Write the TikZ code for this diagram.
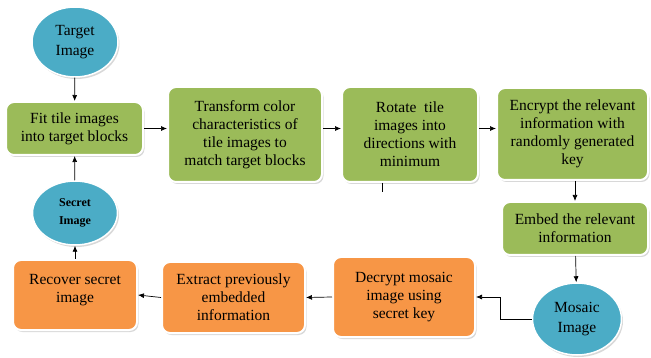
\documentclass[tikz,border=0pt]{standalone}
\usepackage{fontspec}
\setmainfont{Liberation Serif}
\usepackage{tikz}
\usetikzlibrary{arrows.meta, positioning, shapes.geometric, shadows}
\definecolor{boxgreen}{HTML}{9BBB59}
\definecolor{boxorange}{HTML}{F79646}
\definecolor{imgblue}{HTML}{4BACC6}

\begin{document}
\begin{tikzpicture}[x=1pt, y=-1pt,
    stepbox/.style={rectangle, rounded corners=8pt, draw=white, line width=2pt,
        drop shadow={shadow xshift=1.5pt, shadow yshift=-2pt, fill=black!30},
        align=center, inner sep=2pt, font=\rmfamily\fontsize{15.5}{18}\selectfont},
    greenbox/.style={stepbox, fill=boxgreen},
    orangebox/.style={stepbox, fill=boxorange},
    imgnode/.style={ellipse, fill=imgblue, draw=white, line width=1.5pt,
        drop shadow={shadow xshift=1.5pt, shadow yshift=-2pt, fill=black!30},
        align=center, inner sep=0pt, font=\rmfamily\fontsize{15.5}{20}\selectfont},
    flow/.style={-{Latex[length=6pt, width=5pt]}, line width=0.7pt}]
    \useasboundingbox (0,0) rectangle (651,358);

    % images
    \node[imgnode, minimum width=86, minimum height=70] (target) at (75,42) {Target\\Image};
    \node[imgnode, minimum width=85, minimum height=64, font=\rmfamily\fontsize{12}{18}\selectfont\bfseries] (secret) at (75,213) {Secret\\Image};
    \node[imgnode, minimum width=89, minimum height=72] (mosaic) at (577,319) {Mosaic\\Image};

    % embedding steps (green)
    \node[greenbox, minimum width=137, minimum height=53] (fit) at (74.5,128.5) {Fit tile images\\into target blocks};
    \node[greenbox, minimum width=154, minimum height=95] (transform) at (245,134.5) {Transform color\\characteristics of\\tile images to\\match target blocks};
    \node[greenbox, minimum width=136, minimum height=95] (rotate) at (410,134.5) {Rotate~ tile\\images into\\directions with\\minimum};
    \node[greenbox, minimum width=151, minimum height=92] (encrypt) at (572.5,134) {Encrypt the relevant\\information with\\randomly generated\\key};
    \node[greenbox, minimum width=146, minimum height=53] (embed) at (575,228.5) {Embed the relevant\\information};

    % extraction steps (orange)
    \node[orangebox, minimum width=142, minimum height=80] (decrypt) at (404,297) {Decrypt mosaic\\image using\\secret key};
    \node[orangebox, minimum width=143, minimum height=71] (extract) at (233.5,297.5) {Extract previously\\embedded\\information};
    \node[orangebox, minimum width=124, minimum height=70, text depth=14pt] (recover) at (75,295) {Recover secret\\image};

    % connectors
    \draw[flow] (target) -- (fit);
    \draw[flow] (secret) -- (fit);
    \draw[flow] (fit) -- (fit -| transform.west);
    \draw[flow] (transform.east |- fit) -- (rotate.west |- fit);
    \draw[flow] (rotate.east |- fit) -- (encrypt.west |- fit);
    \draw[flow] (encrypt.south -| embed) -- (embed);
    \draw[flow] (embed) -- (mosaic);
    \draw[flow] (mosaic.west) -- ++(-31,0) |- (decrypt.east);
    \draw[flow] (decrypt.west) -- (extract.east);
    \draw[flow] (extract.west) -- (recover.east);
    \draw[flow] (recover) -- (secret);

    % stub under rotate
    \coordinate (stub) at (382,192);
    \draw[line width=0.7pt] (rotate.south -| stub) -- (stub);
\end{tikzpicture}
\end{document}
